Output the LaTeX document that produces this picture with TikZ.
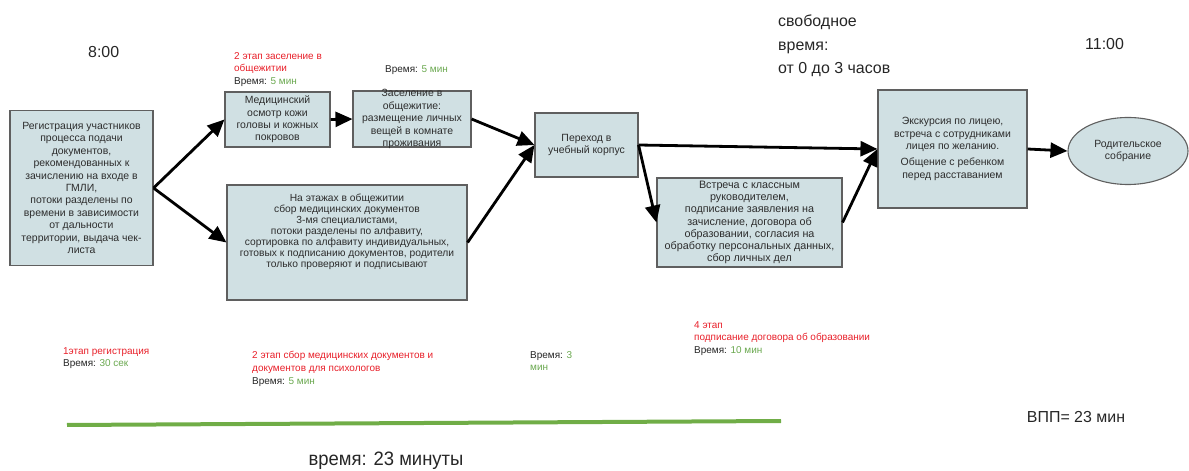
\documentclass[tikz,border=0pt]{standalone}
\usepackage{fontspec}
\setmainfont{Liberation Sans}
\newfontfamily\narrowsans{Liberation Sans}[FakeStretch=0.95]
\usetikzlibrary{arrows.meta,shapes.geometric}

\definecolor{boxfill}{RGB}{208,224,227}
\definecolor{boxline}{RGB}{95,95,95}
\definecolor{boxtext}{RGB}{45,45,45}
\definecolor{stagered}{RGB}{232,32,42}
\definecolor{timegreen}{RGB}{106,168,79}
\definecolor{timeline}{RGB}{112,173,71}
\newcommand\timetext[1]{{\color{black!85}Время:} {\color{timegreen}#1}}

\begin{document}
\begin{tikzpicture}[
  x=1bp, y=-1bp,
  block/.style={draw=boxline,line width=1.1bp,fill=boxfill,text=boxtext,align=center,inner sep=0pt,
    font=\fontsize{10.5}{12.5}\selectfont},
  flow/.style={-{Triangle[length=17bp,width=15bp]},line width=2.8bp},
  stage/.style={anchor=north west,align=left,inner sep=0pt,font=\fontsize{10}{12.8}\selectfont},
  clock/.style={anchor=north west,align=left,inner sep=0pt,text=black!85,font=\fontsize{16}{23.5}\selectfont}
]
  \useasboundingbox (0,0) rectangle (1189,471);

  \node[block,minimum width=143bp,minimum height=155bp] (registration) at (81.5,188)
    {Регистрация участников\\процесса подачи\\документов,\\рекомендованных к\\зачислению на входе в\\ГМЛИ,\\потоки разделены по\\времени в зависимости\\от дальности\\территории, выдача чек-\\листа};
  \node[block,minimum width=105bp,minimum height=55bp] (med-check) at (277.5,119.5)
    {Медицинский\\осмотр кожи\\головы и кожных\\покровов};
  \node[block,minimum width=118bp,minimum height=56bp] (settling) at (412,119) {};
  \node[align=center,text=boxtext,font=\fontsize{10.5}{12.5}\selectfont] (settling-text) at (settling.center)
    {Заселение в\\общежитие:\\размещение личных\\вещей в комнате\\проживания};
  \node[block,minimum width=240bp,minimum height=115bp] (doc-collection) at (347,242.5) {};
  \node[align=center,text=boxtext,font=\fontsize{10.3}{11}\selectfont] (doc-collection-text) at (347,232)
    {На этажах в общежитии\\сбор медицинских документов\\3-мя специалистами,\\потоки разделены по алфавиту,\\сортировка по алфавиту индивидуальных,\\готовых к подписанию документов, родители\\только проверяют и подписывают};
  \node[block,minimum width=103bp,minimum height=64bp] (transfer) at (586.5,145)
    {Переход в\\учебный корпус};
  \node[block,minimum width=185bp,minimum height=89bp,font=\fontsize{10.8}{12.2}\selectfont] (class-meeting) at (749.5,222.5)
    {Встреча с классным\\руководителем,\\подписание заявления на\\зачисление, договора об\\образовании, согласия на\\обработку персональных данных,\\сбор личных дел};
  \node[block,minimum width=149bp,minimum height=118bp] (excursion) at (952.5,149)
    {Экскурсия по лицею,\\встреча с сотрудниками\\лицея по желанию.\\[3.5bp]Общение с ребенком\\перед расставанием};
  \node[block,ellipse,minimum width=120bp,minimum height=67bp] (parent-meeting) at (1128,151)
    {Родительское\\собрание};

  \path[flow]
    (registration.east) edge (med-check.west)
    (registration.east) edge (doc-collection.west)
    (med-check.east) edge (settling.west)
    (settling.east) edge (transfer.west)
    (doc-collection.east) edge (transfer.west)
    (transfer.east) edge (excursion.west)
    (transfer.east) edge (class-meeting.west)
    (class-meeting.east) edge (excursion.west)
    (excursion.east) edge (parent-meeting.west);

  % times and stages
  \node[clock] (start-time) at (88,46) {8:00};
  \node[clock] (end-time) at (1085,38) {11:00};
  \node[clock] (free-time) at (778,15) {свободное\\время:\\от 0 до 3 часов};

  \node[stage] (stage-settle) at (234,52) {\color{stagered}2 этап заселение в\\\color{stagered}общежитии\\\timetext{5 мин}};
  \node[stage] (time-settle) at (385,65) {\timetext{5 мин}};
  \node[stage] (stage-reg) at (63,347) {\color{stagered}1этап регистрация\\\timetext{30 сек}};
  \node[stage] (stage-docs) at (252,351) {\color{stagered}2 этап сбор медицинских документов и\\\color{stagered}документов для психологов\\\timetext{5 мин}};
  \node[stage] (time-transfer) at (530,351) {\timetext{3}\\\color{timegreen}мин};
  \node[stage] (stage-contract) at (694,321) {\color{stagered}4 этап\\\color{stagered}подписание договора об образовании\\\timetext{10 мин}};

  \coordinate (line-start) at (67,425);
  \coordinate (line-end) at (781,421);
  \draw[timeline,line width=4bp] (line-start) -- (line-end);
  \node[font=\narrowsans\fontsize{19.5}{21}\selectfont,text=black!85] (total-time) at (386,461) {время: 23 минуты};
  \node[font=\fontsize{16}{18}\selectfont,text=black!85] (vpp-time) at (1076,417) {ВПП= 23 мин};
\end{tikzpicture}
\end{document}
